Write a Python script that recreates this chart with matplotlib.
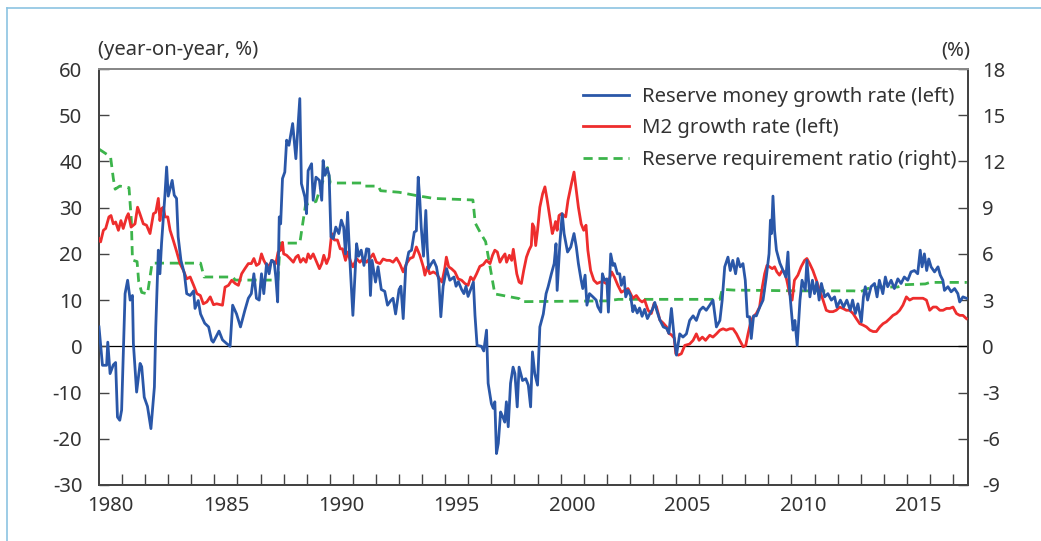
import matplotlib
matplotlib.use('Agg')
import matplotlib.pyplot as plt
from matplotlib.lines import Line2D
from matplotlib.ticker import FixedLocator, NullFormatter

# ── Data ─────────────────────────────────────────────────────────────────
reserve_t = [
    1980.00, 1980.15, 1980.33, 1980.38, 1980.48, 1980.62, 1980.72, 1980.80, 1980.90, 1980.98,
    1981.13, 1981.24, 1981.35, 1981.45, 1981.49, 1981.63, 1981.78, 1981.85, 1981.96, 1982.10,
    1982.25, 1982.40, 1982.46, 1982.57, 1982.64, 1982.71, 1982.86, 1982.93, 1983.00, 1983.17,
    1983.26, 1983.36, 1983.43, 1983.55, 1983.70, 1983.80, 1983.95, 1984.10, 1984.16, 1984.30,
    1984.40, 1984.58, 1984.75, 1984.88, 1984.95, 1985.20, 1985.35, 1985.53, 1985.68, 1985.79,
    1985.96, 1986.13, 1986.32, 1986.47, 1986.60, 1986.71, 1986.82, 1986.94, 1987.04, 1987.14,
    1987.26, 1987.37, 1987.47, 1987.59, 1987.66, 1987.74, 1987.81, 1987.87, 1987.95, 1988.05,
    1988.13, 1988.23, 1988.39, 1988.53, 1988.70, 1988.77, 1988.92, 1988.99, 1989.06, 1989.21,
    1989.28, 1989.40, 1989.55, 1989.65, 1989.71, 1989.79, 1989.89, 1989.97, 1990.05, 1990.15,
    1990.26, 1990.39, 1990.50, 1990.60, 1990.68, 1990.77, 1990.87, 1991.00, 1991.16, 1991.25,
    1991.36, 1991.48, 1991.59, 1991.69, 1991.76, 1991.83, 1991.98, 1992.09, 1992.23, 1992.38,
    1992.50, 1992.64, 1992.74, 1992.85, 1993.00, 1993.08, 1993.18, 1993.29, 1993.42, 1993.54,
    1993.66, 1993.75, 1993.83, 1993.90, 1993.96, 1994.06, 1994.16, 1994.22, 1994.28, 1994.40,
    1994.50, 1994.62, 1994.72, 1994.81, 1994.91, 1995.06, 1995.20, 1995.38, 1995.47, 1995.57,
    1995.71, 1995.81, 1995.90, 1995.99, 1996.10, 1996.22, 1996.29, 1996.38, 1996.57, 1996.67,
    1996.79, 1996.86, 1997.00, 1997.08, 1997.15, 1997.22, 1997.30, 1997.40, 1997.50, 1997.58,
    1997.65, 1997.73, 1997.83, 1997.94, 1998.02, 1998.12, 1998.20, 1998.35, 1998.49, 1998.60,
    1998.70, 1998.78, 1998.88, 1999.00, 1999.10, 1999.25, 1999.37, 1999.46, 1999.60, 1999.72,
    1999.80, 1999.85, 1999.97, 2000.07, 2000.15, 2000.30, 2000.44, 2000.58, 2000.68, 2000.77,
    2000.89, 2000.96, 2001.06, 2001.14, 2001.25, 2001.40, 2001.54, 2001.61, 2001.74, 2001.81,
    2001.90, 2002.00, 2002.07, 2002.17, 2002.27, 2002.34, 2002.46, 2002.56, 2002.63, 2002.75,
    2002.82, 2002.92, 2003.03, 2003.13, 2003.20, 2003.32, 2003.42, 2003.53, 2003.64, 2003.76,
    2003.86, 2003.98, 2004.08, 2004.15, 2004.30, 2004.45, 2004.59, 2004.69, 2004.80, 2004.92,
    2005.02, 2005.16, 2005.30, 2005.45, 2005.59, 2005.74, 2005.88, 2006.03, 2006.17, 2006.31,
    2006.46, 2006.60, 2006.75, 2006.90, 2007.00, 2007.11, 2007.25, 2007.35, 2007.46, 2007.58,
    2007.68, 2007.78, 2007.90, 2008.00, 2008.09, 2008.19, 2008.26, 2008.36, 2008.48, 2008.62,
    2008.77, 2008.91, 2009.03, 2009.09, 2009.14, 2009.20, 2009.27, 2009.35, 2009.50, 2009.64,
    2009.76, 2009.85, 2009.92, 2010.07, 2010.15, 2010.25, 2010.37, 2010.46, 2010.60, 2010.67,
    2010.80, 2010.91, 2011.00, 2011.10, 2011.20, 2011.30, 2011.44, 2011.58, 2011.73, 2011.87,
    2011.97, 2012.12, 2012.26, 2012.40, 2012.55, 2012.65, 2012.77, 2012.88, 2013.03, 2013.12,
    2013.20, 2013.30, 2013.45, 2013.60, 2013.71, 2013.81, 2013.96, 2014.07, 2014.17, 2014.32,
    2014.46, 2014.61, 2014.75, 2014.89, 2015.04, 2015.18, 2015.33, 2015.47, 2015.58, 2015.66,
    2015.76, 2015.86, 2015.95, 2016.05, 2016.20, 2016.35, 2016.45, 2016.56, 2016.63, 2016.78,
    2016.92, 2017.07, 2017.21, 2017.29, 2017.43, 2017.58,
]
reserve_growth = [
    4.2, -4.1, -4.1, 0.9, -5.9, -4.0, -3.5, -15.3, -16.0, -13.8,
    11.4, 14.3, 10.0, 11.0, 0.6, -9.9, -3.7, -4.4, -11.0, -13.0,
    -17.8, -8.8, 4.2, 20.8, 15.7, 22.3, 33.0, 38.8, 32.5, 35.9,
    32.7, 32.0, 23.7, 18.6, 15.7, 11.4, 11.0, 12.0, 8.2, 9.9,
    7.0, 5.0, 4.2, 1.3, 0.9, 3.3, 1.4, 0.6, 0.0, 8.9,
    7.0, 4.2, 7.8, 10.4, 11.4, 15.7, 10.4, 10.0, 15.7, 11.4,
    17.9, 15.7, 18.6, 18.2, 15.0, 9.6, 28.0, 26.5, 36.3, 37.7,
    44.6, 43.5, 48.2, 40.6, 53.6, 35.2, 32.3, 28.7, 38.0, 39.5,
    31.6, 36.6, 35.9, 31.6, 40.2, 37.0, 38.5, 37.0, 23.7, 23.3,
    25.8, 24.4, 27.3, 25.8, 20.0, 29.0, 18.6, 6.7, 22.2, 19.5,
    20.8, 17.5, 21.1, 21.0, 11.0, 18.6, 13.9, 17.2, 12.3, 11.9,
    8.9, 9.9, 10.4, 7.0, 12.3, 13.0, 6.0, 17.2, 20.4, 20.8,
    24.7, 25.0, 36.6, 31.6, 25.8, 19.5, 29.4, 21.5, 16.8, 17.9,
    18.6, 17.2, 14.3, 6.4, 13.0, 16.8, 14.3, 15.0, 13.0, 14.0,
    12.3, 11.4, 13.0, 10.8, 12.3, 13.9, 6.7, 0.2, 0.0, -1.0,
    3.5, -8.0, -12.4, -13.4, -12.0, -23.2, -21.0, -14.2, -15.3, -16.4,
    -12.0, -17.4, -8.0, -4.5, -5.9, -13.1, -4.5, -7.4, -7.0, -8.4,
    -13.1, -1.2, -5.9, -8.4, 4.2, 7.0, 11.4, 12.9, 15.7, 17.9,
    22.2, 12.1, 22.5, 28.7, 24.4, 20.4, 21.5, 24.4, 21.5, 17.9,
    14.3, 12.5, 15.4, 8.9, 11.4, 10.7, 10.0, 8.6, 7.4, 15.7,
    14.3, 14.6, 7.4, 20.0, 17.5, 17.9, 15.7, 15.7, 13.2, 15.0,
    10.7, 12.1, 11.0, 7.5, 8.8, 7.2, 8.3, 6.5, 8.0, 6.0,
    7.0, 8.0, 9.5, 8.0, 5.7, 4.2, 3.9, 2.8, 8.2, 2.0,
    -1.9, 2.7, 2.0, 2.7, 5.6, 6.6, 5.6, 7.8, 8.5, 7.8,
    8.9, 10.0, 4.2, 5.6, 10.0, 17.2, 19.3, 16.4, 18.6, 15.7,
    19.0, 17.2, 17.9, 14.3, 6.4, 6.4, 1.7, 6.6, 6.6, 8.4,
    10.0, 15.0, 20.0, 27.3, 24.4, 32.5, 25.0, 20.8, 18.0, 16.4,
    15.0, 20.4, 12.1, 3.5, 5.6, 0.2, 10.0, 14.3, 12.1, 18.6,
    10.7, 14.3, 11.4, 13.9, 10.0, 13.6, 10.7, 11.4, 10.0, 10.7,
    8.5, 10.0, 8.5, 10.0, 7.8, 10.0, 7.1, 9.2, 5.3, 10.7,
    12.9, 10.0, 12.9, 13.6, 10.7, 14.3, 11.4, 15.0, 12.9, 14.3,
    12.5, 14.6, 13.6, 15.0, 14.3, 16.1, 16.4, 15.7, 20.8, 17.2,
    20.0, 16.4, 18.9, 17.2, 16.1, 17.2, 15.4, 14.3, 12.1, 12.9,
    11.8, 12.5, 11.4, 9.6, 10.7, 10.4,
]

m2_t = [
    1980.00, 1980.07, 1980.19, 1980.29, 1980.43, 1980.52, 1980.62, 1980.72, 1980.84, 1980.95,
    1981.05, 1981.20, 1981.27, 1981.39, 1981.56, 1981.67, 1981.77, 1981.92, 1982.06, 1982.21,
    1982.36, 1982.46, 1982.57, 1982.64, 1982.71, 1982.79, 1982.86, 1982.98, 1983.08, 1983.22,
    1983.37, 1983.51, 1983.66, 1983.80, 1983.95, 1984.10, 1984.24, 1984.39, 1984.52, 1984.67,
    1984.82, 1984.96, 1985.10, 1985.35, 1985.46, 1985.61, 1985.75, 1985.90, 1986.04, 1986.18,
    1986.32, 1986.47, 1986.60, 1986.71, 1986.82, 1986.94, 1987.04, 1987.14, 1987.26, 1987.37,
    1987.51, 1987.66, 1987.76, 1987.87, 1987.95, 1988.00, 1988.13, 1988.27, 1988.42, 1988.53,
    1988.63, 1988.73, 1988.85, 1988.97, 1989.06, 1989.16, 1989.28, 1989.40, 1989.55, 1989.65,
    1989.74, 1989.86, 1989.97, 1990.08, 1990.20, 1990.33, 1990.45, 1990.55, 1990.68, 1990.77,
    1990.91, 1991.00, 1991.16, 1991.30, 1991.45, 1991.59, 1991.73, 1991.88, 1992.02, 1992.17,
    1992.31, 1992.46, 1992.60, 1992.74, 1992.89, 1993.03, 1993.18, 1993.32, 1993.47, 1993.61,
    1993.75, 1993.90, 1994.05, 1994.12, 1994.23, 1994.33, 1994.48, 1994.62, 1994.76, 1994.86,
    1994.98, 1995.05, 1995.15, 1995.27, 1995.42, 1995.56, 1995.71, 1995.85, 1995.99, 1996.10,
    1996.22, 1996.36, 1996.50, 1996.65, 1996.79, 1996.94, 1997.05, 1997.15, 1997.26, 1997.37,
    1997.49, 1997.59, 1997.66, 1997.78, 1997.88, 1997.95, 1998.02, 1998.10, 1998.20, 1998.30,
    1998.40, 1998.52, 1998.63, 1998.73, 1998.78, 1998.85, 1998.92, 1999.00, 1999.10, 1999.22,
    1999.32, 1999.42, 1999.53, 1999.64, 1999.71, 1999.78, 1999.85, 1999.93, 2000.04, 2000.22,
    2000.32, 2000.47, 2000.58, 2000.68, 2000.77, 2000.89, 2001.00, 2001.10, 2001.18, 2001.30,
    2001.44, 2001.58, 2001.72, 2001.87, 2001.97, 2002.07, 2002.21, 2002.33, 2002.48, 2002.63,
    2002.77, 2002.92, 2003.03, 2003.13, 2003.28, 2003.42, 2003.53, 2003.64, 2003.79, 2003.93,
    2004.05, 2004.15, 2004.30, 2004.45, 2004.59, 2004.69, 2004.80, 2004.92, 2004.99, 2005.10,
    2005.23, 2005.38, 2005.59, 2005.74, 2005.88, 2006.00, 2006.14, 2006.28, 2006.46, 2006.60,
    2006.75, 2006.90, 2007.04, 2007.18, 2007.33, 2007.47, 2007.62, 2007.76, 2007.91, 2008.02,
    2008.12, 2008.22, 2008.33, 2008.48, 2008.62, 2008.74, 2008.84, 2008.94, 2009.05, 2009.17,
    2009.27, 2009.37, 2009.48, 2009.60, 2009.70, 2009.80, 2009.92, 2010.03, 2010.13, 2010.28,
    2010.42, 2010.57, 2010.67, 2010.79, 2010.93, 2011.08, 2011.22, 2011.37, 2011.51, 2011.65,
    2011.80, 2011.94, 2012.09, 2012.23, 2012.38, 2012.52, 2012.67, 2012.81, 2012.96, 2013.10,
    2013.25, 2013.40, 2013.54, 2013.68, 2013.83, 2013.97, 2014.11, 2014.26, 2014.40, 2014.55,
    2014.69, 2014.83, 2014.98, 2015.12, 2015.27, 2015.41, 2015.56, 2015.70, 2015.85, 2015.99,
    2016.14, 2016.28, 2016.43, 2016.57, 2016.72, 2016.86, 2017.00, 2017.15, 2017.29, 2017.43,
    2017.58,
]
m2_growth = [
    23.3, 22.6, 25.1, 25.5, 28.0, 28.3, 26.5, 26.9, 25.1, 27.2,
    25.5, 28.0, 28.7, 25.8, 26.5, 30.1, 28.7, 26.5, 26.2, 24.4,
    28.7, 29.0, 32.0, 27.2, 29.8, 30.1, 28.0, 28.0, 25.1, 22.9,
    20.4, 17.9, 16.4, 14.6, 15.0, 13.2, 11.4, 11.0, 9.2, 9.6,
    10.7, 9.0, 9.2, 8.9, 12.8, 13.2, 14.3, 13.6, 13.2, 15.7,
    16.8, 17.9, 17.9, 19.0, 17.5, 17.9, 20.0, 18.6, 17.5, 17.5,
    18.6, 17.9, 20.4, 20.8, 22.5, 20.0, 19.7, 19.0, 18.2, 19.3,
    19.7, 18.2, 19.0, 18.2, 20.0, 19.0, 20.0, 18.6, 16.8, 17.9,
    19.7, 17.9, 19.3, 24.4, 23.0, 23.0, 21.1, 21.1, 18.6, 20.4,
    18.2, 17.2, 19.0, 18.2, 19.0, 18.2, 19.0, 20.0, 18.2, 17.9,
    18.9, 18.6, 18.6, 18.2, 19.1, 17.9, 16.1, 17.9, 19.0, 19.3,
    21.5, 19.7, 17.2, 15.4, 17.2, 15.7, 16.1, 15.7, 14.6, 13.9,
    16.8, 19.3, 17.2, 16.8, 16.1, 14.6, 14.3, 13.6, 13.2, 15.0,
    14.3, 15.7, 17.3, 17.7, 18.6, 17.9, 19.7, 20.8, 20.4, 18.2,
    19.3, 20.0, 18.2, 19.7, 18.6, 21.0, 18.6, 15.7, 13.9, 13.6,
    16.4, 19.3, 20.8, 21.8, 26.5, 25.8, 21.8, 25.1, 30.1, 33.0,
    34.5, 31.6, 28.0, 24.4, 25.5, 27.0, 25.1, 28.3, 28.7, 28.0,
    31.6, 35.2, 37.7, 33.7, 30.1, 26.5, 25.1, 26.2, 20.8, 16.4,
    14.3, 13.6, 13.9, 13.9, 13.6, 13.9, 16.1, 15.0, 13.2, 11.7,
    12.1, 12.5, 11.4, 10.4, 11.0, 10.0, 9.6, 10.0, 7.8, 7.1,
    9.3, 8.6, 5.7, 5.0, 4.2, 2.8, 2.5, 1.8, -1.6, -1.9,
    -1.6, 0.2, 0.5, 1.3, 2.7, 1.3, 2.0, 1.3, 2.4, 2.0,
    2.7, 3.5, 3.8, 3.5, 3.8, 3.8, 2.7, 1.3, -0.1, 0.2,
    2.7, 4.9, 6.3, 7.1, 8.5, 12.9, 15.7, 17.5, 17.2, 16.8,
    17.2, 16.1, 15.4, 16.4, 16.1, 14.3, 11.4, 10.0, 14.3, 15.4,
    17.2, 18.6, 19.0, 17.9, 16.4, 14.3, 12.1, 10.0, 7.8, 7.5,
    7.5, 7.8, 8.5, 8.2, 7.8, 7.8, 7.1, 6.0, 4.9, 4.6,
    4.2, 3.5, 3.2, 3.2, 4.2, 4.9, 5.3, 6.0, 6.7, 7.1,
    7.8, 8.9, 10.7, 10.0, 10.4, 10.4, 10.4, 10.4, 10.0, 7.8,
    8.5, 8.5, 7.8, 7.8, 8.2, 8.2, 8.5, 7.1, 6.7, 6.7,
    6.0,
]

rrr_t = [
    1980.00, 1980.30, 1980.50, 1980.62, 1980.70, 1980.90, 1981.30, 1981.40, 1981.45, 1981.65,
    1981.72, 1981.85, 1982.10, 1982.15, 1982.30, 1984.40, 1984.55, 1985.80, 1985.90, 1987.75,
    1987.85, 1988.70, 1988.95, 1989.40, 1989.60, 1989.90, 1990.02, 1991.40, 1991.50, 1992.10,
    1992.20, 1993.00, 1993.70, 1994.50, 1996.20, 1996.30, 1996.55, 1996.75, 1997.15, 1998.20,
    1998.30, 2002.00, 2002.50, 2006.90, 2007.00, 2007.50, 2010.40, 2012.70, 2013.00, 2013.30,
    2013.80, 2014.60, 2014.90, 2015.80, 2016.00, 2017.60,
]
rrr_ratio = [
    12.8, 12.5, 12.3, 10.9, 10.2, 10.4, 10.3, 8.2, 5.6, 5.5,
    4.2, 3.5, 3.4, 3.9, 5.4, 5.4, 4.5, 4.5, 4.3, 4.3,
    6.7, 6.7, 9.2, 9.4, 10.3, 11.6, 10.6, 10.6, 10.4, 10.4,
    10.1, 10.0, 9.8, 9.6, 9.5, 8.0, 7.3, 6.8, 3.4, 3.1,
    2.9, 2.95, 3.05, 3.05, 3.7, 3.65, 3.6, 3.6, 3.55, 3.75,
    3.85, 3.85, 4.0, 4.05, 4.15, 4.15,
]

year_labels = [1980, 1985, 1990, 1995, 2000, 2005, 2010, 2015]

BLUE = '#2a57a8'
RED = '#ee2d2d'
GREEN = '#3cb44b'
TEXT = '#333333'
FS = 14.6

plt.rcParams['font.family'] = ['Noto Sans', 'DejaVu Sans']
plt.rcParams['font.size'] = FS
plt.rcParams['axes.unicode_minus'] = False

W, H = 1041, 541
fig = plt.figure(figsize=(W / 100, H / 100), dpi=100)
ax = fig.add_axes([99 / W, 1 - 485 / H, (968 - 99) / W, (485 - 69) / H])
ax2 = ax.twinx()

# ── Series ────────────────────────────────────────────────────────────────
ax.axhline(0, color='black', lw=0.9, zorder=1)
l_res, = ax.plot(reserve_t, reserve_growth, color=BLUE, lw=2.0, zorder=4,
                 label='Reserve money growth rate (left)')
l_m2, = ax.plot(m2_t, m2_growth, color=RED, lw=2.0, zorder=3,
                label='M2 growth rate (left)')
l_rrr, = ax2.plot(rrr_t, rrr_ratio, color=GREEN, lw=2.0, dashes=(3.3, 2.1),
                  label='Reserve requirement ratio (right)')

# keep the left-axis lines above the twin axis
ax.set_zorder(ax2.get_zorder() + 1)
ax.patch.set_visible(False)

# ── Axes ──────────────────────────────────────────────────────────────────
ax.set_xlim(1980, 2017.65)
ax.set_ylim(-30, 60)
ax2.set_ylim(-9, 18)
ax.set_yticks(range(-30, 61, 10))
ax2.set_yticks(range(-9, 19, 3))

ax.xaxis.set_major_locator(FixedLocator([y + 0.5 for y in year_labels]))
ax.set_xticklabels([str(y) for y in year_labels])
ax.xaxis.set_minor_locator(FixedLocator(range(1981, 2018)))
ax.xaxis.set_minor_formatter(NullFormatter())
ax.tick_params(axis='x', which='major', length=0, pad=8, labelcolor=TEXT,
               labelsize=FS)
ax.tick_params(axis='x', which='minor', direction='in', length=8,
               width=1.0, color='#444444')
ax.tick_params(axis='y', direction='in', length=7, width=1.0, pad=12,
               color='#444444', labelcolor=TEXT, labelsize=FS)
ax2.tick_params(axis='y', direction='in', length=7, width=1.0, pad=10,
                color='#444444', labelcolor=TEXT, labelsize=FS)

for a in (ax, ax2):
    for side in ('left', 'right', 'bottom'):
        a.spines[side].set_color('#444444')
        a.spines[side].set_linewidth(1.4)
    a.spines['top'].set_color('#888888')
    a.spines['top'].set_linewidth(1.4)

# ── Legend ────────────────────────────────────────────────────────────────
leg = ax.legend(handles=[l_res, l_m2, l_rrr], loc='upper right',
                bbox_to_anchor=(0.987, 0.957), frameon=False, fontsize=FS,
                handlelength=2.3, handletextpad=0.64, labelspacing=0.56,
                borderpad=0, borderaxespad=0)
for t in leg.get_texts():
    t.set_color(TEXT)

# ── Unit labels & frame ───────────────────────────────────────────────────
fig.text(98 / W, 1 - 50 / H, '(year-on-year, %)', ha='left', va='center',
         color=TEXT, fontsize=FS)
fig.text(970 / W, 1 - 50 / H, '(%)', ha='right', va='center',
         color=TEXT, fontsize=FS)

frame_col = '#8cc4e2'
fig.add_artist(Line2D([7 / W, 7 / W], [0, 1 - 8 / H], color=frame_col,
                      lw=1.2, transform=fig.transFigure))
fig.add_artist(Line2D([7 / W, 1], [1 - 8 / H, 1 - 8 / H], color=frame_col,
                      lw=1.2, transform=fig.transFigure))

fig.savefig('out.png', dpi=100)
